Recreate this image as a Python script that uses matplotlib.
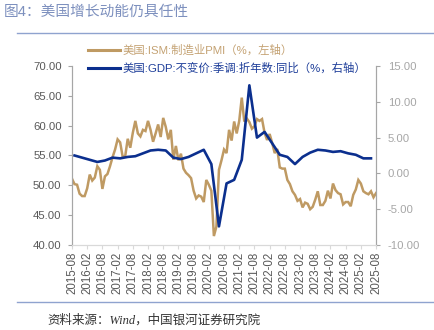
import matplotlib
matplotlib.use("Agg")
import matplotlib.pyplot as plt
from matplotlib.lines import Line2D

plt.rcParams['font.family'] = ['Liberation Sans', 'Noto Sans CJK SC']
plt.rcParams['axes.unicode_minus'] = False

# ISM manufacturing PMI, monthly 2015-08 .. 2025-08
pmi = [51.1, 50.2, 50.1, 48.6, 48.2,
       48.2, 49.5, 51.8, 50.8, 51.3, 53.2, 52.6, 49.4, 51.5, 51.9, 53.2, 54.7,
       56.0, 57.7, 57.2, 54.8, 54.9, 57.8, 56.3, 58.8, 60.8, 58.7, 58.2, 59.3,
       59.1, 60.8, 59.3, 57.3, 58.7, 60.2, 58.1, 61.3, 59.8, 57.7, 59.3, 54.3,
       56.6, 54.2, 55.3, 52.8, 52.1, 51.7, 51.2, 49.1, 47.8, 48.3, 48.1, 47.2,
       50.9, 50.1, 49.1, 41.5, 43.1, 52.6, 54.2, 56.0, 55.4, 59.3, 57.5, 60.7,
       58.7, 60.8, 64.7, 60.7, 61.2, 60.6, 59.5, 59.9, 61.1, 60.8, 61.1, 58.8,
       57.6, 58.6, 57.1, 55.4, 56.1, 53.0, 52.8, 52.8, 50.9, 50.2, 49.0, 48.4,
       47.4, 47.7, 46.3, 47.1, 46.9, 46.0, 46.4, 47.6, 49.0, 46.7, 46.7, 47.4,
       49.1, 47.8, 50.3, 49.2, 48.7, 48.5, 46.8, 47.2, 47.2, 46.5, 48.4, 49.3,
       50.9, 50.3, 49.0, 48.7, 48.5, 49.0, 48.0, 48.7]

# real GDP yoy, quarterly 2015Q3 .. 2025Q2 (plotted at quarter-end month)
gdp = [2.5, 2.2, 1.9, 1.6, 1.8, 2.2, 2.1, 2.3, 2.4, 2.8,
       3.2, 3.3, 3.2, 2.2, 2.0, 2.3, 2.8, 3.3, 1.3, -7.4,
       -1.4, -0.9, 1.9, 12.3, 5.0, 5.8, 4.2, 2.6, 2.3, 1.3,
       2.3, 2.9, 3.3, 3.2, 3.0, 3.1, 2.8, 2.6, 2.1, 2.1]

tick_labels = ['2015-08', '2016-02', '2016-08', '2017-02', '2017-08', '2018-02',
               '2018-08', '2019-02', '2019-08', '2020-02', '2020-08', '2021-02',
               '2021-08', '2022-02', '2022-08', '2023-02', '2023-08', '2024-02',
               '2024-08', '2025-02', '2025-08']

tan = '#BF9A63'
navy = '#0B2F8E'
grey = '#595959'

pmi_x = list(range(len(pmi)))
gdp_x = [1 + 3 * i for i in range(len(gdp))]

fig = plt.figure(figsize=(4.35, 3.3), dpi=100)
ax = fig.add_axes([0.1655, 0.2576, 0.699, 0.5424])
ax2 = ax.twinx()

ax.plot(pmi_x, pmi, color=tan, lw=1.8, solid_joinstyle='miter')
ax2.plot(gdp_x, gdp, color=navy, lw=1.9)

ax.set_xlim(0, 120)
ax.set_ylim(40, 70)
ax2.set_ylim(-10, 15)
ax.set_yticks(range(40, 71, 5))
ax2.set_yticks(range(-10, 16, 5))
ax.set_yticklabels([f'{v:.2f}' for v in range(40, 71, 5)])
ax2.set_yticklabels([f'{v:.2f}' for v in range(-10, 16, 5)])
for lab, v in zip(ax2.get_yticklabels(), range(-10, 16, 5)):
    lab.set_color('#FF0000' if v < 0 else grey)

ax.set_xticks(range(0, 121, 6))
ax.set_xticklabels(tick_labels, rotation=90)

for a in (ax, ax2):
    a.spines['top'].set_visible(False)
    a.spines['left'].set_color('#A6A6A6')
    a.spines['right'].set_color('#A6A6A6')
    a.spines['bottom'].set_color('#D9D9D9')
ax.tick_params(axis='y', labelsize=8.2, colors='#A6A6A6', labelcolor=grey, length=3, pad=4.5)
ax2.tick_params(axis='y', labelsize=8.2, colors='#A6A6A6', length=3, pad=5.5)
ax.tick_params(axis='x', labelsize=8.3, colors='#D9D9D9', labelcolor=grey, length=3, pad=2)

handles = [Line2D([], [], color=tan, lw=2.2), Line2D([], [], color=navy, lw=2.2)]
leg = ax2.legend(handles, ['美国:ISM:制造业PMI（%，左轴）',
                           '美国:GDP:不变价:季调:折年数:同比（%，右轴）'],
                 loc='upper left', bbox_to_anchor=(0.052, 1.12), frameon=False,
                 fontsize=8.2, handlelength=2.8, handletextpad=0.25, labelspacing=0.58,
                 borderaxespad=0, borderpad=0)
leg.get_texts()[0].set_color('#C4A273')
leg.get_texts()[1].set_color('#1F3F9A')

fig.text(0.008, 0.963, '图4：美国增长动能仍具任性', fontsize=10.6, color='#7D90BE',
         va='center', ha='left')
fig.add_artist(Line2D([0.04, 1.0], [0.9, 0.9], color='#8FA3CF', lw=1.0))
fig.add_artist(Line2D([0.04, 1.0], [0.085, 0.085], color='#8FA3CF', lw=1.0))
fig.text(0.11, 0.03, '资料来源：Wind，中国银河证券研究院', fontsize=9, color='#333333',
         style='italic', family=['Liberation Serif', 'Noto Sans CJK SC'],
         va='center', ha='left')

fig.savefig('out.png', dpi=100)
